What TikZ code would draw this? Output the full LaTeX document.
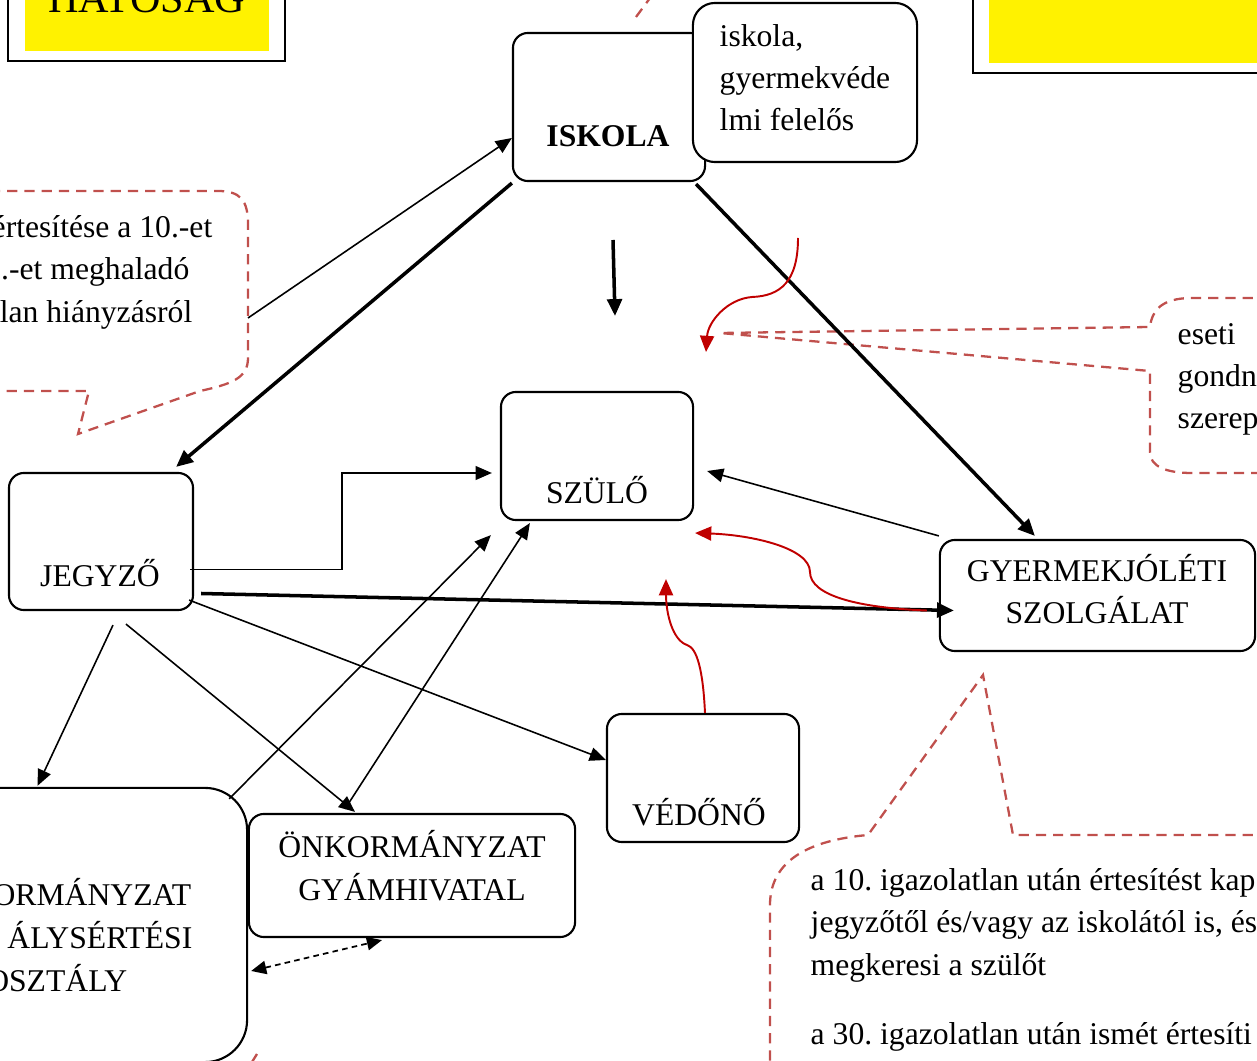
\documentclass[tikz,border=0pt]{standalone}
\usepackage{fontspec}
\setmainfont{Liberation Serif}
\usetikzlibrary{arrows.meta,calc}
\frenchspacing

\definecolor{calloutred}{HTML}{C0504D}
\definecolor{arrowred}{HTML}{C00000}

\tikzset{
  box/.style={draw, rounded corners=0.15cm, line width=0.6pt, inner sep=0pt},
  lbl/.style={anchor=base, inner sep=0pt},
  arr/.style={line width=0.45pt, -{Triangle[length=4.6pt,width=3.9pt]}},
  thickarr/.style={line width=1pt, -{Triangle[length=4.8pt,width=4.2pt]}},
  dblarr/.style={line width=0.5pt, dash pattern=on 1.6pt off 1.2pt,
    {Triangle[length=4.3pt,width=3.8pt]}-{Triangle[length=4.3pt,width=3.8pt]}},
  redarr/.style={arrowred, line width=0.55pt, -{Triangle[length=4.6pt,width=4pt]}},
  callout/.style={calloutred, line width=0.65pt, dash pattern=on 2.9pt off 2pt},
}

\begin{document}
\begin{tikzpicture}[x=0.01cm, y=-0.01cm, every node/.style={font=\fontsize{9}{11.95}\selectfont}]
  \useasboundingbox (0,0) rectangle (1257,1061);
  \clip (0,0) rectangle (1257,1061);

  % yellow frames at the top
  \draw[line width=0.8pt] (8,-20) rectangle (285,61);
  \fill[yellow] (25,-20) rectangle (269,51);
  \node[lbl, font=\fontsize{12}{14}\selectfont] (hatosag) at (146.5,13) {HATÓSÁG};
  \draw[line width=0.8pt] (973,-20) rectangle (1280,73);
  \fill[yellow] (989,-20) rectangle (1280,63);

  % boxes
  \node[box, minimum width=1.92cm, minimum height=1.48cm] (iskola) at (609,107) {};
  \node[lbl, font=\fontsize{9}{11.95}\selectfont\bfseries] (iskola-t) at (608,147) {ISKOLA};
  \node[box, fill=white, rounded corners=0.22cm, minimum width=2.24cm, minimum height=1.59cm] (felelos) at (805,82.5) {};
  \node[lbl, anchor=base west, align=left] (felelos-t) at (719,131) {iskola,\\gyermekvéde\\lmi felelős};
  \node[box, minimum width=1.84cm, minimum height=1.37cm] (jegyzo) at (101,541.5) {};
  \node[lbl] (jegyzo-t) at (100,587) {JEGYZŐ};
  \node[box, minimum width=1.92cm, minimum height=1.28cm] (szulo) at (597,456) {};
  \node[lbl] (szulo-t) at (597,504) {SZÜLŐ};
  \node[box, minimum width=3.15cm, minimum height=1.11cm] (gyjsz) at (1097.5,595.5) {};
  \node[lbl, align=center] (gyjsz-t) at (1097,624) {GYERMEKJÓLÉTI\\SZOLGÁLAT};
  \node[box, minimum width=1.92cm, minimum height=1.28cm] (vedono) at (703,778) {};
  \node[lbl] (vedono-t) at (699,826) {VÉDŐNŐ};
  \node[box, minimum width=3.26cm, minimum height=1.23cm] (gyam) at (412,875.5) {};
  \node[lbl, align=center] (gyam-t) at (412,900) {ÖNKORMÁNYZAT\\GYÁMHIVATAL};
  \node[box, rounded corners=0.42cm, minimum width=3.07cm, minimum height=2.74cm] (szabs) at (93.5,925) {};
  \node[lbl, anchor=base east] (szabs-t1) at (192,905) {ORMÁNYZAT};
  \node[lbl, anchor=base east] (szabs-t2) at (193,948) {ÁLYSÉRTÉSI};
  \node[lbl, anchor=base east] (szabs-t3) at (128,991) {OSZTÁLY};

  % callouts
  \draw[callout] (-10,191) -- (218,191) .. controls (240,191) and (248,200) .. (248,224) -- (248,358)
    .. controls (248,378) and (232,384) .. (200,391) -- (78,434) -- (89,391) -- (-10,391);
  \node[lbl, anchor=base east] (ertesit-t1) at (213,238) {értesítése a 10.-et};
  \node[lbl, anchor=base east] (ertesit-t2) at (190,280) {.-et meghaladó};
  \node[lbl, anchor=base east] (ertesit-t3) at (193,323) {lan hiányzásról};
  \coordinate (ertesit) at (248,318);

  \draw[callout] (1270,298) -- (1192,298) .. controls (1162,298) and (1152,310) .. (1150,327) -- (720,333)
    -- (1150,371) -- (1150,452) .. controls (1150,466) and (1165,473) .. (1192,473) -- (1270,473);
  \node[lbl, anchor=base west, align=left] (eseti-t) at (1177,429) {eseti\\gondn\\szerep};

  \draw[callout] (1270,835) -- (1013,835) -- (983,675) -- (868,835)
    .. controls (810,840) and (770,860) .. (770,905) -- (770,1070);
  \node[lbl, anchor=base west, align=left] (kap-t) at (810,975) {a 10. igazolatlan után értesítést kap\\jegyzőtől és/vagy az iskolától is, és\\megkeresi a szülőt};
  \node[lbl, anchor=base west] (ismet-t) at (810,1044) {a 30. igazolatlan után ismét értesíti};

  \draw[callout] (636,17) -- (656,-10);
  \draw[callout] (252,1062) -- (257,1054);

  % arrows
  \draw[arr] (ertesit) -- ($(iskola.west)+(0,31)$);
  \draw[thickarr] ($(iskola.south west)+(0,1)$) -- ($(jegyzo.north east)+(-18,-5)$);
  \draw[thickarr] ($(iskola.south east)+(-10,2)$) -- ($(gyjsz.north west)+(96,-3)$);
  \coordinate (le1) at (613,240);
  \coordinate (le2) at (615,316);
  \draw[thickarr] (le1) -- (le2);
  \coordinate (ive1) at (798,238);
  \coordinate (ive2) at (706,352);
  \draw[redarr] (ive1) .. controls (798,282) and (780,296) .. (752,297) .. controls (727,299) and (708,322) .. (ive2);

  \draw[arr] ($(jegyzo.east)+(-4,28)$) -- ++(152,0) |- ($(szulo.west)+(-8,17)$);
  \draw[thickarr] ($(jegyzo.east)+(7,52)$) -- ($(gyjsz.west)+(15,15)$);
  \draw[arr] ($(gyjsz.north west)+(0,-3)$) -- ($(szulo.east)+(13,15)$);
  \draw[redarr] ($(gyjsz.west)+(-12,15)$) .. controls (860,608) and (810,596) .. (810,572)
    .. controls (810,548) and (752,535) .. ($(szulo.east)+(1,77)$);
  \draw[redarr] ($(vedono.north)+(2,0)$) .. controls (703,670) and (697,648) .. (687,645)
    .. controls (672,640) and (666,612) .. ($(szulo.south)+(69,58)$);
  \draw[arr] ($(jegyzo.south east)+(-5,-11)$) -- ($(vedono.west)+(0,-18)$);
  \draw[arr] ($(jegyzo.south)+(12,14)$) -- ($(szabs.north)+(-56,-1)$);
  \draw[arr] ($(jegyzo.south)+(25,13)$) -- ($(gyam.north)+(-57,-1)$);
  \draw[arr] ($(szabs.north east)+(-19,12)$) -- ($(szulo.south west)+(-9,14)$);
  \draw[arr] ($(gyam.north)+(-67,-4)$) -- ($(szulo.south west)+(30,2)$);
  \draw[dblarr] ($(szabs.east)+(3,46)$) -- ($(gyam.south)+(-30,2)$);
\end{tikzpicture}
\end{document}
